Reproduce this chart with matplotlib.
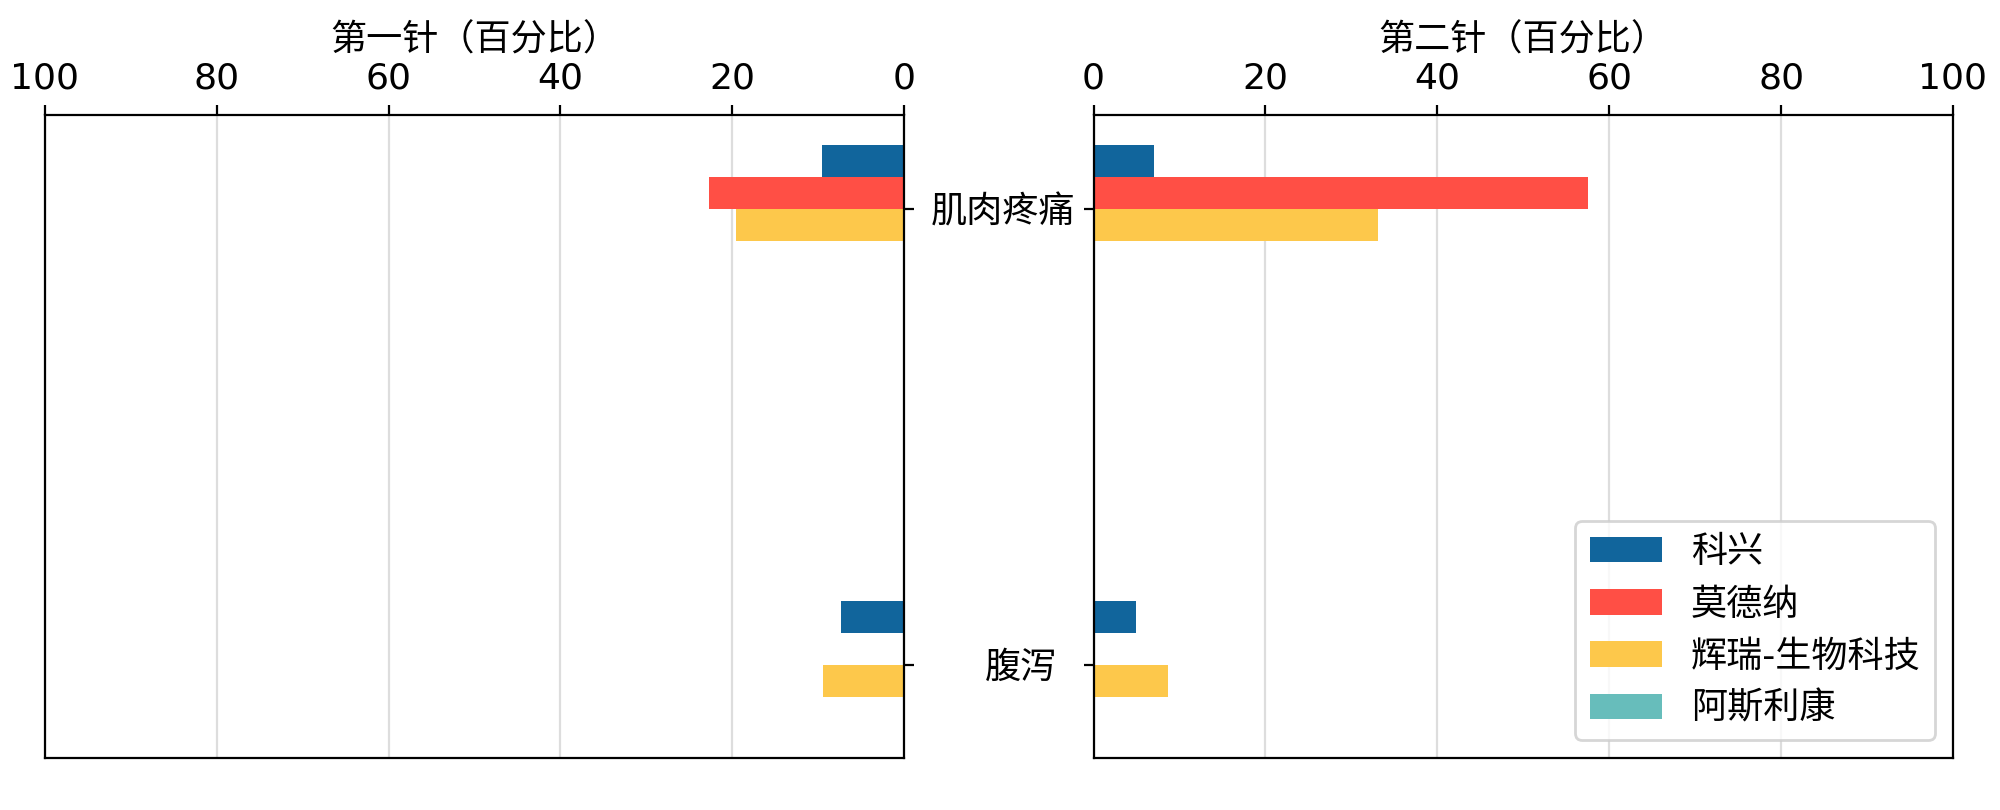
import numpy as np
import matplotlib.pyplot as plt
from matplotlib.transforms import ScaledTranslation

# data (percent of recipients)
symptoms = ["肌肉疼痛", "腹泻"]
vaccines = ["科兴", "莫德纳", "辉瑞-生物科技", "阿斯利康"]
dose1 = {
    "科兴": [9.6, 7.3],
    "莫德纳": [22.7, 0.0],
    "辉瑞-生物科技": [19.5, 9.4],
    "阿斯利康": [0.0, 0.0],
}
dose2 = {
    "科兴": [7.0, 4.9],
    "莫德纳": [57.5, 0.0],
    "辉瑞-生物科技": [33.1, 8.6],
    "阿斯利康": [0.0, 0.0],
}
xticks = [0, 20, 40, 60, 80, 100]

colors = ["#11659c", "#ff4f45", "#fdc84b", "#67bdbb"]
bar_h = 0.07

plt.rcParams['font.family'] = ['DejaVu Sans', 'Noto Sans CJK SC']
plt.rcParams['font.size'] = 13

fig = plt.figure(figsize=(10, 4.05), dpi=200)
ax1 = fig.add_axes([0.0225, 0.0638, 0.4295, 0.7939])
ax2 = fig.add_axes([0.5468, 0.0638, 0.4297, 0.7939])

y = np.arange(len(symptoms))

for i, name in enumerate(vaccines):
    off = (i - (len(vaccines) - 1) / 2) * bar_h
    ax1.barh(y + off, dose1[name], height=bar_h, color=colors[i], label=name)
    ax2.barh(y + off, dose2[name], height=bar_h, color=colors[i], label=name)

for ax, title in [(ax1, "第一针（百分比）"), (ax2, "第二针（百分比）")]:
    ax.xaxis.tick_top()
    ax.xaxis.set_label_position('top')
    ax.set_xlabel(title, family=['Noto Sans CJK SC', 'DejaVu Sans'])
    ax.set_xticks(xticks)
    ax.set_yticks(y)
    ax.set_ylim(1.205, -0.205)
    ax.grid(axis='x', color='#dddddd', linewidth=0.8)
    ax.set_axisbelow(True)
    for s in ax.spines.values():
        s.set_color('black')

ax1.set_xlim(100, 0)
ax2.set_xlim(0, 100)

# labels sit between the two panels
ax1.yaxis.tick_right()
ax1.set_yticklabels(symptoms)
ax1.tick_params(axis='y', pad=32)
for lab in ax1.get_yticklabels():
    lab.set_horizontalalignment('center')
ax2.set_yticklabels([])

# small nudge for the second label as in the original
lab = ax1.get_yticklabels()[1]
lab.set_transform(lab.get_transform() + ScaledTranslation(0.09, 0, fig.dpi_scale_trans))

ax2.legend(loc='lower right', fontsize=13)

fig.savefig("out.png", dpi=200)
